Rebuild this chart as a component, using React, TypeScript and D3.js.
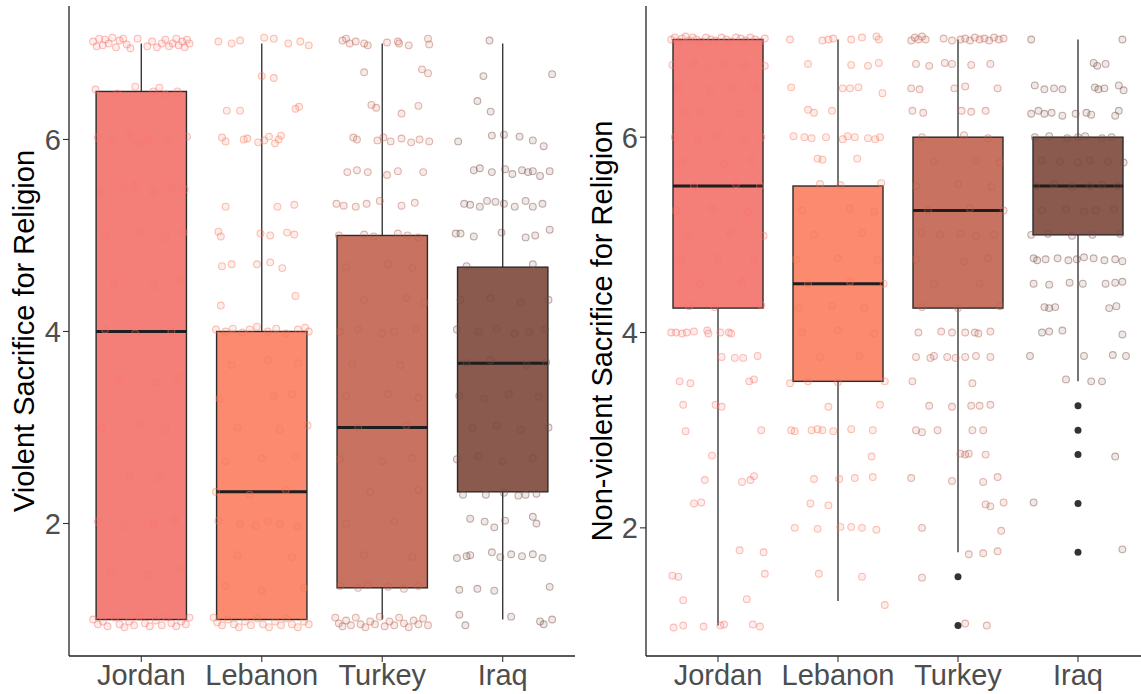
import * as d3 from 'd3';

type Pt = [number, number];

const countries = ['Jordan', 'Lebanon', 'Turkey', 'Iraq'];
const boxColours = ['#F47F79', '#FB8A6E', '#C87361', '#895A4D'];
const pointColours = ['#F8766D', '#F97A5E', '#BF6452', '#7A4E44'];
const yTicks = [2, 4, 6];

// violent sacrifice: box stats per country
const violentLower = [1, 1, 1, 1];
const violentQ1 = [1, 1, 1.33, 2.33];
const violentMedian = [4, 2.33, 3, 3.67];
const violentQ3 = [6.5, 4, 5, 4.67];
const violentUpper = [7, 7, 7, 7];
const violentOutliers: number[][] = [[], [], [], []];

// non-violent sacrifice: box stats per country
const nonViolentLower = [1, 1.25, 1.75, 3.5];
const nonViolentQ1 = [4.25, 3.5, 4.25, 5];
const nonViolentMedian = [5.5, 4.5, 5.25, 5.5];
const nonViolentQ3 = [7, 5.5, 6, 6];
const nonViolentUpper = [7, 7, 7, 7];
const nonViolentOutliers = [[], [], [1.5, 1.0], [3.25, 3.0, 2.75, 2.25, 1.75]];

// jittered responses: [offset in category units, value]
const violentJordan: Pt[] = [
  [-0.4, 7.02], [-0.37, 6.97], [-0.35, 7.05], [-0.32, 6.98], [-0.3, 7.04], [-0.27, 7.0], [-0.24, 7.06],
  [-0.21, 6.96], [-0.18, 7.03], [-0.15, 7.05], [-0.12, 6.99], [-0.09, 6.95], [-0.03, 7.05], [0.05, 6.97],
  [0.09, 7.02], [0.13, 6.96], [0.17, 7.0], [0.2, 7.04], [0.23, 6.97], [0.26, 7.0], [0.29, 7.05],
  [0.31, 6.98], [0.34, 7.02], [0.36, 6.96], [0.38, 7.04], [0.4, 7.0],
  [-0.38, 6.52], [-0.2, 6.48], [-0.05, 6.55], [0.1, 6.5], [0.15, 6.54], [0.2, 6.47], [0.3, 6.5],
  [-0.36, 6.02], [-0.25, 5.98], [-0.1, 6.05], [-0.02, 5.96], [0.05, 6.0], [0.22, 5.98], [0.38, 6.03],
  [-0.33, 5.45], [-0.15, 5.5], [-0.05, 5.52], [0.1, 5.46], [0.25, 5.5], [0.36, 5.48],
  [-0.3, 5.0], [0.0, 5.02], [0.2, 4.98], [0.35, 5.03],
  [-0.22, 4.5], [0.1, 4.47], [0.32, 4.52],
  [-0.3, 4.02], [-0.05, 3.98], [0.25, 4.0],
  [-0.2, 3.5], [0.12, 3.47], [0.3, 3.52],
  [-0.33, 3.0], [0.0, 3.03], [0.2, 2.98],
  [-0.1, 2.5], [0.15, 2.47],
  [-0.36, 2.02], [-0.15, 1.98], [0.1, 2.0], [0.28, 2.03],
  [-0.25, 1.5], [0.05, 1.47], [0.33, 1.52],
  [-0.4, 1.0], [-0.36, 0.95], [-0.32, 0.98], [-0.28, 0.93], [-0.22, 1.02], [-0.18, 0.95], [-0.14, 0.92],
  [-0.1, 0.98], [-0.06, 0.94], [-0.02, 1.03], [0.03, 0.96], [0.07, 0.93], [0.12, 0.99], [0.17, 0.94],
  [0.21, 1.02], [0.25, 0.96], [0.29, 0.93], [0.33, 0.98], [0.37, 0.95], [0.4, 1.02],
];

const violentLebanon: Pt[] = [
  [-0.36, 7.02], [-0.25, 7.0], [-0.18, 7.03], [0.02, 7.06], [0.1, 7.05], [0.22, 7.0], [0.32, 7.02], [0.39, 6.98],
  [0.0, 6.66], [0.1, 6.64],
  [-0.29, 6.3], [-0.18, 6.3], [0.28, 6.32], [0.31, 6.34],
  [-0.33, 6.02], [-0.3, 5.98], [-0.15, 6.0], [-0.12, 6.01], [-0.03, 5.97], [0.02, 5.99], [0.06, 6.03],
  [0.11, 5.96], [0.14, 6.0], [0.16, 6.04],
  [-0.3, 5.3], [0.13, 5.3], [0.27, 5.32],
  [-0.36, 5.04], [-0.34, 4.99], [-0.01, 5.02], [0.07, 5.0], [0.21, 5.03], [0.27, 5.01],
  [-0.33, 4.68], [-0.25, 4.7], [-0.04, 4.7], [0.07, 4.72], [0.17, 4.66],
  [0.28, 4.37], [-0.34, 4.27],
  [-0.38, 4.02], [-0.3, 4.0], [-0.24, 4.03], [-0.16, 3.99], [-0.1, 4.02], [-0.04, 4.05], [0.05, 4.0],
  [0.12, 4.03], [0.2, 3.98], [0.3, 4.02], [0.36, 4.04], [0.39, 4.0],
  [-0.25, 3.65], [0.05, 3.7], [0.3, 3.67], [-0.35, 3.3], [0.1, 3.33], [0.25, 3.35],
  [-0.2, 3.0], [0.15, 2.98], [0.38, 3.02], [-0.3, 2.65], [0.0, 2.68], [0.28, 2.7],
  [-0.38, 2.33], [-0.1, 2.3], [0.2, 2.35],
  [-0.36, 2.03], [-0.18, 2.0], [-0.05, 1.98], [0.05, 2.02], [0.15, 2.0], [0.3, 1.97],
  [-0.2, 1.67], [0.25, 1.65], [-0.3, 1.35], [0.0, 1.3], [0.35, 1.33],
  [-0.4, 1.02], [-0.37, 0.97], [-0.33, 0.94], [-0.28, 1.0], [-0.23, 0.95], [-0.19, 0.92], [-0.14, 0.98],
  [-0.09, 0.94], [-0.04, 1.01], [0.01, 0.95], [0.06, 0.92], [0.11, 0.98], [0.16, 0.94], [0.2, 1.01],
  [0.25, 0.95], [0.3, 0.92], [0.35, 0.98], [0.39, 0.95],
];

const violentTurkey: Pt[] = [
  [-0.33, 7.03], [-0.3, 7.05], [-0.27, 7.0], [-0.22, 7.02], [-0.15, 7.0], [-0.12, 6.98], [0.04, 7.01],
  [0.13, 7.02], [0.14, 7.0], [0.22, 6.98], [0.38, 7.05], [0.39, 6.99],
  [-0.15, 6.7], [0.33, 6.73], [0.38, 6.69],
  [-0.09, 6.36], [-0.05, 6.33], [0.3, 6.35], [0.16, 6.27],
  [-0.24, 6.02], [-0.21, 6.0], [-0.04, 5.99], [0.01, 6.02], [0.07, 5.98], [0.16, 6.01], [0.24, 5.97],
  [0.31, 6.0], [0.39, 5.98],
  [-0.29, 5.66], [-0.21, 5.68], [-0.12, 5.66], [0.04, 5.63], [0.13, 5.67], [0.34, 5.66],
  [-0.38, 5.33], [-0.32, 5.31], [-0.22, 5.3], [-0.13, 5.33], [-0.02, 5.36], [0.16, 5.31], [0.27, 5.34],
  [-0.36, 5.0], [-0.15, 5.01], [-0.07, 4.99], [0.13, 5.02], [0.21, 5.0], [0.3, 4.98],
  [-0.3, 4.67], [0.05, 4.7], [0.25, 4.66], [-0.15, 4.33], [0.2, 4.35], [0.35, 4.3],
  [-0.35, 4.0], [-0.2, 4.02], [0.0, 3.98], [0.1, 4.0], [0.28, 4.03],
  [-0.25, 3.67], [0.15, 3.65], [-0.3, 3.33], [0.05, 3.35], [0.3, 3.31],
  [-0.2, 3.0], [0.2, 3.02], [-0.35, 2.67], [0.0, 2.65], [0.25, 2.68],
  [-0.1, 2.33], [0.3, 2.35], [-0.3, 2.0], [0.1, 2.02], [-0.15, 1.67], [0.25, 1.65],
  [-0.35, 1.35], [-0.2, 1.33], [-0.12, 1.36], [0.05, 1.34], [0.18, 1.32], [0.3, 1.35],
  [-0.39, 1.02], [-0.36, 0.96], [-0.33, 0.93], [-0.3, 0.99], [-0.26, 0.94], [-0.22, 1.02], [-0.18, 0.95],
  [-0.14, 0.92], [-0.1, 0.98], [-0.06, 0.95], [-0.02, 1.03], [0.02, 0.93], [0.06, 0.98], [0.1, 0.94],
  [0.14, 1.02], [0.18, 0.96], [0.22, 0.92], [0.26, 0.99], [0.3, 0.95], [0.34, 1.01], [0.38, 0.94],
];

const violentIraq: Pt[] = [
  [-0.11, 7.03], [-0.16, 6.66], [0.41, 6.68], [-0.21, 6.4], [-0.1, 6.29],
  [-0.37, 5.98], [-0.09, 6.04], [0.01, 6.05], [0.14, 6.03], [0.25, 5.99], [0.34, 5.93],
  [-0.24, 5.68], [-0.19, 5.7], [-0.09, 5.66], [0.02, 5.69], [0.08, 5.64], [0.16, 5.68], [0.21, 5.66],
  [0.25, 5.67], [0.31, 5.62], [0.39, 5.67],
  [-0.32, 5.33], [-0.27, 5.32], [-0.19, 5.3], [-0.13, 5.36], [-0.06, 5.35], [0.01, 5.33], [0.1, 5.3],
  [0.19, 5.36], [0.25, 5.3], [0.33, 5.33],
  [-0.39, 5.02], [-0.35, 5.02], [-0.24, 4.99], [-0.01, 5.03], [0.19, 4.98], [0.27, 5.0], [0.39, 5.06],
  [-0.3, 4.68], [0.25, 4.7],
  [-0.35, 4.33], [-0.1, 4.35], [0.15, 4.3], [0.38, 4.33],
  [-0.38, 4.02], [-0.2, 4.0], [-0.05, 4.03], [0.1, 3.98], [0.22, 4.0], [0.35, 4.02],
  [-0.3, 3.67], [-0.1, 3.7], [0.2, 3.65], [0.36, 3.68],
  [-0.36, 3.33], [-0.15, 3.3], [0.05, 3.35], [0.3, 3.32],
  [-0.25, 3.0], [-0.05, 3.02], [0.15, 2.98], [0.38, 3.0],
  [-0.38, 2.67], [-0.2, 2.7], [0.0, 2.65], [0.25, 2.68],
  [-0.33, 2.3], [-0.14, 2.3], [0.01, 2.32], [0.13, 2.29], [0.19, 2.3], [0.28, 2.31],
  [-0.27, 2.05], [-0.15, 2.02], [-0.07, 1.96], [0.02, 2.03], [0.25, 2.07], [0.28, 2.0],
  [-0.38, 1.64], [-0.3, 1.66], [-0.27, 1.67], [-0.09, 1.7], [-0.02, 1.65], [0.07, 1.68], [0.16, 1.66],
  [0.25, 1.68], [0.33, 1.64],
  [-0.36, 1.31], [-0.21, 1.32], [-0.07, 1.3], [0.39, 1.34],
  [-0.36, 1.05], [-0.31, 0.94], [0.07, 1.03], [0.31, 0.98], [0.34, 0.95], [0.41, 1.0],
];

const nonViolentJordan: Pt[] = [
  [-0.39, 7.0], [-0.36, 7.02], [-0.33, 6.98], [-0.3, 7.01], [-0.27, 7.03], [-0.24, 6.99], [-0.21, 7.02],
  [-0.18, 7.0], [-0.14, 6.98], [-0.1, 7.02], [-0.06, 7.0], [-0.02, 6.99], [0.03, 7.02], [0.07, 7.0],
  [0.11, 6.98], [0.15, 7.02], [0.19, 7.01], [0.23, 6.99], [0.27, 7.02], [0.31, 7.0], [0.35, 6.98], [0.39, 7.01],
  [-0.38, 6.74], [-0.2, 6.76], [-0.08, 6.72], [0.06, 6.75], [0.22, 6.74], [0.39, 6.73],
  [-0.33, 6.5], [-0.06, 6.48], [0.12, 6.5], [0.3, 6.51],
  [-0.27, 6.25], [-0.15, 6.26], [0.18, 6.24],
  [-0.36, 6.0], [-0.17, 5.98], [0.0, 6.02], [0.21, 5.99], [0.36, 6.0],
  [-0.3, 5.75], [0.05, 5.73], [0.28, 5.76], [-0.2, 5.5], [0.15, 5.52], [0.35, 5.5],
  [-0.35, 5.25], [-0.05, 5.27], [0.25, 5.24], [-0.25, 5.0], [0.1, 5.02], [0.38, 4.99],
  [-0.3, 4.75], [0.0, 4.76], [0.3, 4.73], [-0.15, 4.5], [0.2, 4.52],
  [-0.24, 4.27], [-0.03, 4.26], [0.36, 4.28],
  [-0.39, 4.0], [-0.35, 4.0], [-0.3, 3.99], [-0.26, 4.0], [-0.2, 4.01], [-0.09, 4.02], [-0.08, 3.99],
  [0.02, 4.0], [0.09, 4.0], [0.11, 3.99],
  [0.03, 3.75], [0.14, 3.74], [0.21, 3.74], [0.33, 3.76],
  [-0.32, 3.5], [-0.23, 3.48], [0.26, 3.5], [0.3, 3.52],
  [-0.29, 3.26], [-0.02, 3.26], [0.03, 3.24],
  [-0.27, 2.99], [0.36, 3.0], [-0.05, 2.74],
  [-0.11, 2.49], [0.2, 2.47], [0.27, 2.49], [0.3, 2.53],
  [-0.2, 2.25], [-0.14, 2.26], [0.18, 1.77], [0.38, 1.75],
  [-0.38, 1.51], [-0.33, 1.5], [0.39, 1.53], [-0.29, 1.26], [0.24, 1.27],
  [-0.37, 0.98], [-0.29, 1.0], [-0.12, 0.99], [0.02, 1.0], [0.05, 1.01], [0.29, 1.01], [0.35, 0.99],
];

const nonViolentLebanon: Pt[] = [
  [-0.4, 7.0], [-0.13, 6.99], [-0.08, 7.0], [-0.04, 7.01], [0.11, 7.0], [0.2, 7.02], [0.32, 7.03], [0.34, 7.0],
  [-0.25, 6.75], [0.11, 6.74], [0.25, 6.73], [0.34, 6.76],
  [-0.39, 6.51], [0.04, 6.5], [0.1, 6.5], [0.17, 6.51], [0.37, 6.45],
  [-0.25, 6.28], [-0.2, 6.25], [-0.05, 6.27],
  [-0.37, 6.01], [-0.28, 6.0], [-0.22, 5.99], [-0.1, 6.0], [0.04, 5.98], [0.08, 6.01], [0.14, 6.0],
  [0.25, 5.99], [0.31, 5.98], [0.35, 6.0],
  [-0.17, 5.78], [-0.13, 5.77], [0.16, 5.78],
  [-0.15, 5.52], [0.02, 5.51], [0.36, 5.53],
  [-0.3, 5.25], [0.1, 5.27], [0.3, 5.24], [-0.2, 5.0], [0.2, 5.02], [-0.35, 4.75], [0.0, 4.76], [0.33, 4.74],
  [-0.25, 4.5], [0.1, 4.52], [0.38, 4.5], [-0.33, 4.25], [-0.05, 4.27], [0.22, 4.25],
  [-0.3, 4.0], [0.0, 4.02], [0.3, 3.99], [-0.15, 3.75], [0.18, 3.76],
  [-0.4, 3.48], [-0.25, 3.5], [0.0, 3.49], [0.39, 3.5],
  [-0.08, 3.24], [0.35, 3.26],
  [-0.39, 3.0], [-0.36, 2.99], [-0.22, 3.0], [-0.17, 3.01], [-0.13, 3.0], [-0.04, 2.99], [0.11, 3.01], [0.29, 3.0],
  [0.28, 2.73],
  [-0.2, 2.5], [0.01, 2.5], [0.14, 2.51], [0.29, 2.52],
  [-0.23, 2.25], [-0.08, 2.23],
  [-0.36, 2.0], [-0.17, 1.99], [0.02, 2.01], [0.11, 2.01], [0.2, 2.0], [0.32, 1.98],
  [-0.16, 1.53], [0.2, 1.5], [0.39, 1.21],
];

const nonViolentTurkey: Pt[] = [
  [-0.39, 6.99], [-0.36, 7.02], [-0.33, 7.0], [-0.3, 7.03], [-0.27, 7.0], [-0.12, 7.01], [-0.05, 6.99],
  [0.02, 7.0], [0.06, 7.01], [0.1, 6.99], [0.14, 7.02], [0.18, 7.0], [0.22, 7.01], [0.26, 6.99],
  [0.3, 7.02], [0.34, 7.0], [0.38, 7.01],
  [-0.35, 6.75], [-0.24, 6.73], [-0.11, 6.76], [-0.05, 6.75], [0.11, 6.74], [0.27, 6.75],
  [-0.39, 6.5], [-0.32, 6.49], [-0.03, 6.5], [0.06, 6.52], [0.33, 6.5],
  [-0.38, 6.27], [-0.29, 6.25], [0.03, 6.27], [0.11, 6.26], [0.23, 6.27],
  [-0.3, 6.0], [0.05, 6.02], [0.25, 5.99], [-0.2, 5.75], [0.15, 5.76], [0.35, 5.74],
  [-0.35, 5.5], [0.0, 5.52], [0.28, 5.49], [-0.25, 5.25], [0.1, 5.27], [0.38, 5.25],
  [-0.3, 5.02], [-0.15, 5.0], [0.02, 5.01], [0.15, 4.99], [0.3, 5.0],
  [-0.35, 4.75], [0.05, 4.73], [0.25, 4.76], [-0.2, 4.5], [0.18, 4.5],
  [-0.3, 4.26], [0.0, 4.25], [0.35, 4.27],
  [-0.33, 4.0], [-0.14, 4.01], [-0.05, 4.0], [0.06, 4.0], [0.14, 4.0], [0.17, 3.99], [0.27, 4.01],
  [-0.35, 3.75], [-0.23, 3.74], [-0.2, 3.76], [-0.09, 3.75], [-0.02, 3.74], [0.06, 3.75], [0.15, 3.76], [0.27, 3.75],
  [-0.38, 3.5], [0.12, 3.48],
  [-0.24, 3.25], [-0.05, 3.24], [0.11, 3.25], [0.18, 3.25], [0.27, 3.26],
  [-0.35, 3.0], [-0.3, 2.98], [-0.17, 3.0], [0.12, 3.0], [0.21, 3.0],
  [0.02, 2.76], [0.06, 2.75], [0.09, 2.76], [0.23, 2.75],
  [-0.39, 2.51], [-0.05, 2.48], [0.21, 2.47], [0.33, 2.52],
  [0.23, 2.24], [0.27, 2.22], [0.38, 2.26],
  [-0.3, 2.0], [0.36, 1.97],
  [0.09, 1.73], [0.21, 1.74], [0.33, 1.76],
  [-0.3, 1.49], [0.06, 1.02], [0.24, 1.0],
];

const nonViolentIraq: Pt[] = [
  [-0.39, 7.0], [0.37, 7.0],
  [0.13, 6.76], [0.16, 6.73], [0.23, 6.75],
  [-0.36, 6.53], [-0.28, 6.49], [-0.2, 6.5], [-0.13, 6.49], [0.14, 6.51], [0.17, 6.49], [0.22, 6.5],
  [0.34, 6.53], [0.38, 6.48],
  [-0.39, 6.24], [-0.33, 6.27], [-0.28, 6.24], [-0.22, 6.25], [-0.13, 6.22], [-0.02, 6.24], [0.07, 6.25],
  [0.11, 6.23], [0.31, 6.22], [0.34, 6.27],
  [-0.36, 6.0], [-0.24, 6.01], [-0.09, 5.99], [0.0, 6.0], [0.06, 6.01], [0.2, 5.99], [0.28, 6.0],
  [-0.3, 5.76], [-0.15, 5.75], [0.0, 5.74], [0.1, 5.76], [0.25, 5.75], [0.38, 5.74],
  [-0.35, 5.5], [-0.2, 5.52], [-0.05, 5.49], [0.1, 5.5], [0.2, 5.51], [0.33, 5.5],
  [-0.3, 5.25], [-0.1, 5.26], [0.05, 5.24], [0.15, 5.25], [0.3, 5.26],
  [-0.39, 5.0], [-0.25, 5.01], [-0.05, 4.99], [0.12, 5.0], [0.35, 5.01],
  [-0.37, 4.76], [-0.34, 4.74], [-0.27, 4.75], [-0.17, 4.76], [-0.08, 4.74], [-0.01, 4.75], [0.05, 4.77],
  [0.13, 4.76], [0.22, 4.74], [0.31, 4.75], [0.37, 4.73],
  [-0.37, 4.5], [-0.24, 4.49], [-0.07, 4.51], [0.04, 4.5], [0.23, 4.5], [0.31, 4.51], [0.37, 4.52],
  [-0.28, 4.26], [-0.24, 4.25], [-0.19, 4.26], [0.26, 4.25], [0.32, 4.27],
  [-0.3, 4.0], [-0.24, 4.01], [-0.13, 4.02], [0.37, 3.98],
  [-0.4, 3.76], [0.05, 3.76], [0.29, 3.77], [0.4, 3.76],
  [-0.1, 3.52], [0.11, 3.5], [0.2, 3.5],
  [0.31, 2.73], [-0.37, 2.26], [0.37, 1.78],
];

const violentPoints = [violentJordan, violentLebanon, violentTurkey, violentIraq];
const nonViolentPoints = [nonViolentJordan, nonViolentLebanon, nonViolentTurkey, nonViolentIraq];

const FONT = "'Liberation Sans', Arial, Helvetica, sans-serif";

interface PanelProps {
  title: string;
  left: number;
  right: number;
  domain: [number, number];
  titleX: number;
  lower: number[];
  q1: number[];
  median: number[];
  q3: number[];
  upper: number[];
  outliers: number[][];
  points: Pt[][];
}

function Panel({ title, left, right, domain, titleX, lower, q1, median, q3, upper, outliers, points }: PanelProps) {
  const top = 6;
  const bottom = 656;
  const x = d3.scalePoint<string>().domain(countries).range([left, right]).padding(0.6);
  const y = d3.scaleLinear().domain(domain).range([bottom, top]);
  const step = x.step();
  const boxWidth = step * 0.75;

  return (
    <g>
      {countries.map((c, i) => {
        const cx = x(c) as number;
        return (
          <g key={c}>
            <line x1={cx} x2={cx} y1={y(q3[i])} y2={y(upper[i])} stroke="#2b2b2b" strokeWidth={1.3} />
            <line x1={cx} x2={cx} y1={y(q1[i])} y2={y(lower[i])} stroke="#2b2b2b" strokeWidth={1.3} />
            <rect
              x={cx - boxWidth / 2}
              y={y(q3[i])}
              width={boxWidth}
              height={y(q1[i]) - y(q3[i])}
              fill={boxColours[i]}
              stroke="#2b2b2b"
              strokeWidth={1.4}
            />
            <line
              x1={cx - boxWidth / 2}
              x2={cx + boxWidth / 2}
              y1={y(median[i])}
              y2={y(median[i])}
              stroke="#1e1e1e"
              strokeWidth={3}
            />
            {outliers[i].map((v, k) => (
              <circle key={k} cx={cx} cy={y(v)} r={3.5} fill="#333" />
            ))}
            {points[i].map(([dx, v], k) => (
              <circle
                key={'p' + k}
                cx={cx + dx * step}
                cy={y(v)}
                r={3.4}
                fill={pointColours[i]}
                fillOpacity={0.13}
                stroke={pointColours[i]}
                strokeOpacity={0.45}
                strokeWidth={1.1}
              />
            ))}
          </g>
        );
      })}

      <line x1={left} x2={left} y1={top} y2={bottom} stroke="#222" strokeWidth={1.3} />
      <line x1={left} x2={right} y1={bottom} y2={bottom} stroke="#222" strokeWidth={1.3} />

      {yTicks.map((t) => (
        <g key={t}>
          <line x1={left - 6} x2={left} y1={y(t)} y2={y(t)} stroke="#333" strokeWidth={1.1} />
          <text
            x={left - 8}
            y={y(t)}
            dy="0.36em"
            textAnchor="end"
            fontSize={29}
            fill="#4D4D4D"
            fontFamily={FONT}
          >
            {t}
          </text>
        </g>
      ))}

      {countries.map((c) => (
        <g key={c}>
          <line x1={x(c)} x2={x(c)} y1={bottom} y2={bottom + 6} stroke="#333" strokeWidth={1.1} />
          <text x={x(c)} y={685} textAnchor="middle" fontSize={29} fill="#4D4D4D" fontFamily={FONT}>
            {c}
          </text>
        </g>
      ))}

      <text
        transform={`translate(${titleX},${(top + bottom) / 2}) rotate(-90)`}
        textAnchor="middle"
        fontSize={29}
        fill="#000"
        fontFamily={FONT}
      >
        {title}
      </text>
    </g>
  );
}

export default function App() {
  return (
    <div style={{ position: 'absolute', left: 0, top: 0, width: 1141, height: 694, background: '#fff' }}>
      <svg width={1141} height={694} viewBox="0 0 1141 694">
        <rect width={1141} height={694} fill="#fff" />
        <Panel
          title="Violent Sacrifice for Religion"
          left={69}
          right={575}
          domain={[0.62, 7.39]}
          titleX={34}
          lower={violentLower}
          q1={violentQ1}
          median={violentMedian}
          q3={violentQ3}
          upper={violentUpper}
          outliers={violentOutliers}
          points={violentPoints}
        />
        <Panel
          title="Non-violent Sacrifice for Religion"
          left={646}
          right={1150}
          domain={[0.688, 7.343]}
          titleX={612}
          lower={nonViolentLower}
          q1={nonViolentQ1}
          median={nonViolentMedian}
          q3={nonViolentQ3}
          upper={nonViolentUpper}
          outliers={nonViolentOutliers}
          points={nonViolentPoints}
        />
      </svg>
    </div>
  );
}
